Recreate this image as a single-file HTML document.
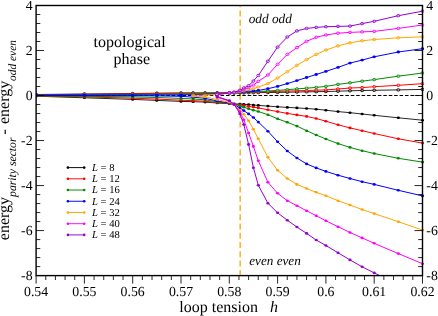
<!DOCTYPE html>
<html><head><meta charset="utf-8"><title>plot</title>
<style>html,body{margin:0;padding:0;background:#fff;}svg{display:block;}text{font-family:"Liberation Serif",serif;fill:#000;text-rendering:geometricPrecision;}</style>
</head><body>
<svg width="438" height="316" viewBox="0 0 438 316">
<rect x="0" y="0" width="438" height="316" fill="#ffffff"/>
<filter id="nf" x="0" y="0" width="438" height="316" filterUnits="userSpaceOnUse"><feOffset dx="0" dy="0"/></filter>
<g filter="url(#nf)">
<defs><clipPath id="c"><rect x="36.10" y="5.50" width="387.90" height="270.10"/></clipPath></defs>
<line x1="240.15" y1="5.50" x2="240.15" y2="275.60" stroke="#ffa500" stroke-width="1.3" stroke-dasharray="5.9 3.36" stroke-dashoffset="4.16"/>
<line x1="36.10" y1="95.48" x2="422.50" y2="95.48" stroke="#000" stroke-width="1.05" stroke-dasharray="3.55 1.875"/>
<g clip-path="url(#c)" fill="none" stroke-width="0.82" stroke-linejoin="round">
<polyline points="36.1,94.5 84.4,94.0 132.7,93.5 156.8,93.2 181.0,93.0 193.1,92.9 205.1,92.9 217.2,92.8 229.3,92.8 234.1,92.8 239.9,92.8 243.8,92.8 248.6,92.7 253.4,92.7 258.3,92.6 267.9,92.5 277.6,92.4 287.3,92.2 296.9,92.0 306.6,91.8 316.2,91.7 325.9,91.5 338.0,91.2 350.0,90.8 362.1,90.5 374.2,90.3 398.3,89.9 422.5,89.4" stroke="#000000" stroke-width="0.85"/>
<ellipse cx="36.1" cy="94.5" rx="1.6" ry="1.2" fill="#fff" fill-opacity="0.35" stroke="#000000" stroke-width="0.9"/>
<ellipse cx="84.4" cy="94.0" rx="1.6" ry="1.2" fill="#fff" fill-opacity="0.35" stroke="#000000" stroke-width="0.9"/>
<ellipse cx="132.7" cy="93.5" rx="1.6" ry="1.2" fill="#fff" fill-opacity="0.35" stroke="#000000" stroke-width="0.9"/>
<ellipse cx="156.8" cy="93.2" rx="1.6" ry="1.2" fill="#fff" fill-opacity="0.35" stroke="#000000" stroke-width="0.9"/>
<ellipse cx="181.0" cy="93.0" rx="1.6" ry="1.2" fill="#fff" fill-opacity="0.35" stroke="#000000" stroke-width="0.9"/>
<ellipse cx="193.1" cy="92.9" rx="1.6" ry="1.2" fill="#fff" fill-opacity="0.35" stroke="#000000" stroke-width="0.9"/>
<ellipse cx="205.1" cy="92.9" rx="1.6" ry="1.2" fill="#fff" fill-opacity="0.35" stroke="#000000" stroke-width="0.9"/>
<ellipse cx="217.2" cy="92.8" rx="1.6" ry="1.2" fill="#fff" fill-opacity="0.35" stroke="#000000" stroke-width="0.9"/>
<ellipse cx="229.3" cy="92.8" rx="1.6" ry="1.2" fill="#fff" fill-opacity="0.35" stroke="#000000" stroke-width="0.9"/>
<ellipse cx="234.1" cy="92.8" rx="1.6" ry="1.2" fill="#fff" fill-opacity="0.35" stroke="#000000" stroke-width="0.9"/>
<ellipse cx="239.9" cy="92.8" rx="1.6" ry="1.2" fill="#fff" fill-opacity="0.35" stroke="#000000" stroke-width="0.9"/>
<ellipse cx="243.8" cy="92.8" rx="1.6" ry="1.2" fill="#fff" fill-opacity="0.35" stroke="#000000" stroke-width="0.9"/>
<ellipse cx="248.6" cy="92.7" rx="1.6" ry="1.2" fill="#fff" fill-opacity="0.35" stroke="#000000" stroke-width="0.9"/>
<ellipse cx="253.4" cy="92.7" rx="1.6" ry="1.2" fill="#fff" fill-opacity="0.35" stroke="#000000" stroke-width="0.9"/>
<ellipse cx="258.3" cy="92.6" rx="1.6" ry="1.2" fill="#fff" fill-opacity="0.35" stroke="#000000" stroke-width="0.9"/>
<ellipse cx="267.9" cy="92.5" rx="1.6" ry="1.2" fill="#fff" fill-opacity="0.35" stroke="#000000" stroke-width="0.9"/>
<ellipse cx="277.6" cy="92.4" rx="1.6" ry="1.2" fill="#fff" fill-opacity="0.35" stroke="#000000" stroke-width="0.9"/>
<ellipse cx="287.3" cy="92.2" rx="1.6" ry="1.2" fill="#fff" fill-opacity="0.35" stroke="#000000" stroke-width="0.9"/>
<ellipse cx="296.9" cy="92.0" rx="1.6" ry="1.2" fill="#fff" fill-opacity="0.35" stroke="#000000" stroke-width="0.9"/>
<ellipse cx="306.6" cy="91.8" rx="1.6" ry="1.2" fill="#fff" fill-opacity="0.35" stroke="#000000" stroke-width="0.9"/>
<ellipse cx="316.2" cy="91.7" rx="1.6" ry="1.2" fill="#fff" fill-opacity="0.35" stroke="#000000" stroke-width="0.9"/>
<ellipse cx="325.9" cy="91.5" rx="1.6" ry="1.2" fill="#fff" fill-opacity="0.35" stroke="#000000" stroke-width="0.9"/>
<ellipse cx="338.0" cy="91.2" rx="1.6" ry="1.2" fill="#fff" fill-opacity="0.35" stroke="#000000" stroke-width="0.9"/>
<ellipse cx="350.0" cy="90.8" rx="1.6" ry="1.2" fill="#fff" fill-opacity="0.35" stroke="#000000" stroke-width="0.9"/>
<ellipse cx="362.1" cy="90.5" rx="1.6" ry="1.2" fill="#fff" fill-opacity="0.35" stroke="#000000" stroke-width="0.9"/>
<ellipse cx="374.2" cy="90.3" rx="1.6" ry="1.2" fill="#fff" fill-opacity="0.35" stroke="#000000" stroke-width="0.9"/>
<ellipse cx="398.3" cy="89.9" rx="1.6" ry="1.2" fill="#fff" fill-opacity="0.35" stroke="#000000" stroke-width="0.9"/>
<ellipse cx="422.5" cy="89.4" rx="1.6" ry="1.2" fill="#fff" fill-opacity="0.35" stroke="#000000" stroke-width="0.9"/>
<polyline points="36.1,96.2 84.4,97.8 132.7,99.4 156.8,100.4 181.0,101.4 193.1,101.7 205.1,102.1 217.2,103.0 229.3,103.7 234.1,103.9 239.9,104.1 243.8,104.3 248.6,104.6 253.4,105.0 258.3,105.4 267.9,106.1 277.6,106.8 287.3,107.4 296.9,107.9 306.6,108.5 316.2,109.2 325.9,110.2 338.0,111.6 350.0,112.7 362.1,114.0 374.2,115.3 398.3,117.8 422.5,120.2" stroke="#000000" stroke-width="0.85"/>
<ellipse cx="36.1" cy="96.2" rx="1.6" ry="1.3" fill="#000000" stroke="none"/>
<ellipse cx="84.4" cy="97.8" rx="1.6" ry="1.3" fill="#000000" stroke="none"/>
<ellipse cx="132.7" cy="99.4" rx="1.6" ry="1.3" fill="#000000" stroke="none"/>
<ellipse cx="156.8" cy="100.4" rx="1.6" ry="1.3" fill="#000000" stroke="none"/>
<ellipse cx="181.0" cy="101.4" rx="1.6" ry="1.3" fill="#000000" stroke="none"/>
<ellipse cx="193.1" cy="101.7" rx="1.6" ry="1.3" fill="#000000" stroke="none"/>
<ellipse cx="205.1" cy="102.1" rx="1.6" ry="1.3" fill="#000000" stroke="none"/>
<ellipse cx="217.2" cy="103.0" rx="1.6" ry="1.3" fill="#000000" stroke="none"/>
<ellipse cx="229.3" cy="103.7" rx="1.6" ry="1.3" fill="#000000" stroke="none"/>
<ellipse cx="234.1" cy="103.9" rx="1.6" ry="1.3" fill="#000000" stroke="none"/>
<ellipse cx="239.9" cy="104.1" rx="1.6" ry="1.3" fill="#000000" stroke="none"/>
<ellipse cx="243.8" cy="104.3" rx="1.6" ry="1.3" fill="#000000" stroke="none"/>
<ellipse cx="248.6" cy="104.6" rx="1.6" ry="1.3" fill="#000000" stroke="none"/>
<ellipse cx="253.4" cy="105.0" rx="1.6" ry="1.3" fill="#000000" stroke="none"/>
<ellipse cx="258.3" cy="105.4" rx="1.6" ry="1.3" fill="#000000" stroke="none"/>
<ellipse cx="267.9" cy="106.1" rx="1.6" ry="1.3" fill="#000000" stroke="none"/>
<ellipse cx="277.6" cy="106.8" rx="1.6" ry="1.3" fill="#000000" stroke="none"/>
<ellipse cx="287.3" cy="107.4" rx="1.6" ry="1.3" fill="#000000" stroke="none"/>
<ellipse cx="296.9" cy="107.9" rx="1.6" ry="1.3" fill="#000000" stroke="none"/>
<ellipse cx="306.6" cy="108.5" rx="1.6" ry="1.3" fill="#000000" stroke="none"/>
<ellipse cx="316.2" cy="109.2" rx="1.6" ry="1.3" fill="#000000" stroke="none"/>
<ellipse cx="325.9" cy="110.2" rx="1.6" ry="1.3" fill="#000000" stroke="none"/>
<ellipse cx="338.0" cy="111.6" rx="1.6" ry="1.3" fill="#000000" stroke="none"/>
<ellipse cx="350.0" cy="112.7" rx="1.6" ry="1.3" fill="#000000" stroke="none"/>
<ellipse cx="362.1" cy="114.0" rx="1.6" ry="1.3" fill="#000000" stroke="none"/>
<ellipse cx="374.2" cy="115.3" rx="1.6" ry="1.3" fill="#000000" stroke="none"/>
<ellipse cx="398.3" cy="117.8" rx="1.6" ry="1.3" fill="#000000" stroke="none"/>
<ellipse cx="422.5" cy="120.2" rx="1.6" ry="1.3" fill="#000000" stroke="none"/>
<polyline points="36.1,94.7 84.4,94.3 132.7,93.8 156.8,93.5 181.0,93.2 193.1,93.2 205.1,93.2 217.2,93.1 229.3,93.0 234.1,92.9 239.9,92.8 243.8,92.7 248.6,92.5 253.4,92.3 258.3,92.1 267.9,91.7 277.6,91.4 287.3,91.1 296.9,90.8 306.6,90.5 316.2,90.2 325.9,89.9 338.0,89.0 350.0,88.0 362.1,87.6 374.2,86.7 398.3,85.3 422.5,83.7" stroke="#ff0000" stroke-width="1.0"/>
<ellipse cx="36.1" cy="94.7" rx="1.6" ry="1.2" fill="#fff" fill-opacity="0.4" stroke="#ff0000" stroke-width="0.9"/>
<ellipse cx="84.4" cy="94.3" rx="1.6" ry="1.2" fill="#fff" fill-opacity="0.4" stroke="#ff0000" stroke-width="0.9"/>
<ellipse cx="132.7" cy="93.8" rx="1.6" ry="1.2" fill="#fff" fill-opacity="0.4" stroke="#ff0000" stroke-width="0.9"/>
<ellipse cx="156.8" cy="93.5" rx="1.6" ry="1.2" fill="#fff" fill-opacity="0.4" stroke="#ff0000" stroke-width="0.9"/>
<ellipse cx="181.0" cy="93.2" rx="1.6" ry="1.2" fill="#fff" fill-opacity="0.4" stroke="#ff0000" stroke-width="0.9"/>
<ellipse cx="193.1" cy="93.2" rx="1.6" ry="1.2" fill="#fff" fill-opacity="0.4" stroke="#ff0000" stroke-width="0.9"/>
<ellipse cx="205.1" cy="93.2" rx="1.6" ry="1.2" fill="#fff" fill-opacity="0.4" stroke="#ff0000" stroke-width="0.9"/>
<ellipse cx="217.2" cy="93.1" rx="1.6" ry="1.2" fill="#fff" fill-opacity="0.4" stroke="#ff0000" stroke-width="0.9"/>
<ellipse cx="229.3" cy="93.0" rx="1.6" ry="1.2" fill="#fff" fill-opacity="0.4" stroke="#ff0000" stroke-width="0.9"/>
<ellipse cx="234.1" cy="92.9" rx="1.6" ry="1.2" fill="#fff" fill-opacity="0.4" stroke="#ff0000" stroke-width="0.9"/>
<ellipse cx="239.9" cy="92.8" rx="1.6" ry="1.2" fill="#fff" fill-opacity="0.4" stroke="#ff0000" stroke-width="0.9"/>
<ellipse cx="243.8" cy="92.7" rx="1.6" ry="1.2" fill="#fff" fill-opacity="0.4" stroke="#ff0000" stroke-width="0.9"/>
<ellipse cx="248.6" cy="92.5" rx="1.6" ry="1.2" fill="#fff" fill-opacity="0.4" stroke="#ff0000" stroke-width="0.9"/>
<ellipse cx="253.4" cy="92.3" rx="1.6" ry="1.2" fill="#fff" fill-opacity="0.4" stroke="#ff0000" stroke-width="0.9"/>
<ellipse cx="258.3" cy="92.1" rx="1.6" ry="1.2" fill="#fff" fill-opacity="0.4" stroke="#ff0000" stroke-width="0.9"/>
<ellipse cx="267.9" cy="91.7" rx="1.6" ry="1.2" fill="#fff" fill-opacity="0.4" stroke="#ff0000" stroke-width="0.9"/>
<ellipse cx="277.6" cy="91.4" rx="1.6" ry="1.2" fill="#fff" fill-opacity="0.4" stroke="#ff0000" stroke-width="0.9"/>
<ellipse cx="287.3" cy="91.1" rx="1.6" ry="1.2" fill="#fff" fill-opacity="0.4" stroke="#ff0000" stroke-width="0.9"/>
<ellipse cx="296.9" cy="90.8" rx="1.6" ry="1.2" fill="#fff" fill-opacity="0.4" stroke="#ff0000" stroke-width="0.9"/>
<ellipse cx="306.6" cy="90.5" rx="1.6" ry="1.2" fill="#fff" fill-opacity="0.4" stroke="#ff0000" stroke-width="0.9"/>
<ellipse cx="316.2" cy="90.2" rx="1.6" ry="1.2" fill="#fff" fill-opacity="0.4" stroke="#ff0000" stroke-width="0.9"/>
<ellipse cx="325.9" cy="89.9" rx="1.6" ry="1.2" fill="#fff" fill-opacity="0.4" stroke="#ff0000" stroke-width="0.9"/>
<ellipse cx="338.0" cy="89.0" rx="1.6" ry="1.2" fill="#fff" fill-opacity="0.4" stroke="#ff0000" stroke-width="0.9"/>
<ellipse cx="350.0" cy="88.0" rx="1.6" ry="1.2" fill="#fff" fill-opacity="0.4" stroke="#ff0000" stroke-width="0.9"/>
<ellipse cx="362.1" cy="87.6" rx="1.6" ry="1.2" fill="#fff" fill-opacity="0.4" stroke="#ff0000" stroke-width="0.9"/>
<ellipse cx="374.2" cy="86.7" rx="1.6" ry="1.2" fill="#fff" fill-opacity="0.4" stroke="#ff0000" stroke-width="0.9"/>
<ellipse cx="398.3" cy="85.3" rx="1.6" ry="1.2" fill="#fff" fill-opacity="0.4" stroke="#ff0000" stroke-width="0.9"/>
<ellipse cx="422.5" cy="83.7" rx="1.6" ry="1.2" fill="#fff" fill-opacity="0.4" stroke="#ff0000" stroke-width="0.9"/>
<polyline points="36.1,96.1 84.4,96.9 132.7,98.2 156.8,99.1 181.0,100.2 193.1,100.7 205.1,101.2 217.2,102.6 229.3,103.6 234.1,104.1 239.9,104.7 243.8,105.6 248.6,106.4 253.4,107.1 258.3,107.9 267.9,109.8 277.6,111.6 287.3,113.4 296.9,114.9 306.6,116.4 316.2,118.5 325.9,121.2 338.0,124.8 350.0,127.9 362.1,130.7 374.2,133.5 398.3,138.8 422.5,143.1" stroke="#ff0000" stroke-width="1.0"/>
<ellipse cx="36.1" cy="96.1" rx="1.6" ry="1.3" fill="#ff0000" stroke="none"/>
<ellipse cx="84.4" cy="96.9" rx="1.6" ry="1.3" fill="#ff0000" stroke="none"/>
<ellipse cx="132.7" cy="98.2" rx="1.6" ry="1.3" fill="#ff0000" stroke="none"/>
<ellipse cx="156.8" cy="99.1" rx="1.6" ry="1.3" fill="#ff0000" stroke="none"/>
<ellipse cx="181.0" cy="100.2" rx="1.6" ry="1.3" fill="#ff0000" stroke="none"/>
<ellipse cx="193.1" cy="100.7" rx="1.6" ry="1.3" fill="#ff0000" stroke="none"/>
<ellipse cx="205.1" cy="101.2" rx="1.6" ry="1.3" fill="#ff0000" stroke="none"/>
<ellipse cx="217.2" cy="102.6" rx="1.6" ry="1.3" fill="#ff0000" stroke="none"/>
<ellipse cx="229.3" cy="103.6" rx="1.6" ry="1.3" fill="#ff0000" stroke="none"/>
<ellipse cx="234.1" cy="104.1" rx="1.6" ry="1.3" fill="#ff0000" stroke="none"/>
<ellipse cx="239.9" cy="104.7" rx="1.6" ry="1.3" fill="#ff0000" stroke="none"/>
<ellipse cx="243.8" cy="105.6" rx="1.6" ry="1.3" fill="#ff0000" stroke="none"/>
<ellipse cx="248.6" cy="106.4" rx="1.6" ry="1.3" fill="#ff0000" stroke="none"/>
<ellipse cx="253.4" cy="107.1" rx="1.6" ry="1.3" fill="#ff0000" stroke="none"/>
<ellipse cx="258.3" cy="107.9" rx="1.6" ry="1.3" fill="#ff0000" stroke="none"/>
<ellipse cx="267.9" cy="109.8" rx="1.6" ry="1.3" fill="#ff0000" stroke="none"/>
<ellipse cx="277.6" cy="111.6" rx="1.6" ry="1.3" fill="#ff0000" stroke="none"/>
<ellipse cx="287.3" cy="113.4" rx="1.6" ry="1.3" fill="#ff0000" stroke="none"/>
<ellipse cx="296.9" cy="114.9" rx="1.6" ry="1.3" fill="#ff0000" stroke="none"/>
<ellipse cx="306.6" cy="116.4" rx="1.6" ry="1.3" fill="#ff0000" stroke="none"/>
<ellipse cx="316.2" cy="118.5" rx="1.6" ry="1.3" fill="#ff0000" stroke="none"/>
<ellipse cx="325.9" cy="121.2" rx="1.6" ry="1.3" fill="#ff0000" stroke="none"/>
<ellipse cx="338.0" cy="124.8" rx="1.6" ry="1.3" fill="#ff0000" stroke="none"/>
<ellipse cx="350.0" cy="127.9" rx="1.6" ry="1.3" fill="#ff0000" stroke="none"/>
<ellipse cx="362.1" cy="130.7" rx="1.6" ry="1.3" fill="#ff0000" stroke="none"/>
<ellipse cx="374.2" cy="133.5" rx="1.6" ry="1.3" fill="#ff0000" stroke="none"/>
<ellipse cx="398.3" cy="138.8" rx="1.6" ry="1.3" fill="#ff0000" stroke="none"/>
<ellipse cx="422.5" cy="143.1" rx="1.6" ry="1.3" fill="#ff0000" stroke="none"/>
<polyline points="36.1,95.0 84.4,94.8 132.7,94.5 156.8,94.3 181.0,94.1 193.1,93.9 205.1,93.7 217.2,93.5 229.3,93.2 234.1,93.0 239.9,92.7 243.8,92.4 248.6,92.1 253.4,91.8 258.3,91.5 267.9,91.0 277.6,90.4 287.3,89.7 296.9,88.9 306.6,88.2 316.2,87.4 325.9,86.4 338.0,84.4 350.0,82.8 362.1,81.2 374.2,79.6 398.3,76.2 422.5,73.0" stroke="#008a00" stroke-width="1.0"/>
<ellipse cx="36.1" cy="95.0" rx="1.6" ry="1.2" fill="#fff" fill-opacity="0.4" stroke="#008a00" stroke-width="0.9"/>
<ellipse cx="84.4" cy="94.8" rx="1.6" ry="1.2" fill="#fff" fill-opacity="0.4" stroke="#008a00" stroke-width="0.9"/>
<ellipse cx="132.7" cy="94.5" rx="1.6" ry="1.2" fill="#fff" fill-opacity="0.4" stroke="#008a00" stroke-width="0.9"/>
<ellipse cx="156.8" cy="94.3" rx="1.6" ry="1.2" fill="#fff" fill-opacity="0.4" stroke="#008a00" stroke-width="0.9"/>
<ellipse cx="181.0" cy="94.1" rx="1.6" ry="1.2" fill="#fff" fill-opacity="0.4" stroke="#008a00" stroke-width="0.9"/>
<ellipse cx="193.1" cy="93.9" rx="1.6" ry="1.2" fill="#fff" fill-opacity="0.4" stroke="#008a00" stroke-width="0.9"/>
<ellipse cx="205.1" cy="93.7" rx="1.6" ry="1.2" fill="#fff" fill-opacity="0.4" stroke="#008a00" stroke-width="0.9"/>
<ellipse cx="217.2" cy="93.5" rx="1.6" ry="1.2" fill="#fff" fill-opacity="0.4" stroke="#008a00" stroke-width="0.9"/>
<ellipse cx="229.3" cy="93.2" rx="1.6" ry="1.2" fill="#fff" fill-opacity="0.4" stroke="#008a00" stroke-width="0.9"/>
<ellipse cx="234.1" cy="93.0" rx="1.6" ry="1.2" fill="#fff" fill-opacity="0.4" stroke="#008a00" stroke-width="0.9"/>
<ellipse cx="239.9" cy="92.7" rx="1.6" ry="1.2" fill="#fff" fill-opacity="0.4" stroke="#008a00" stroke-width="0.9"/>
<ellipse cx="243.8" cy="92.4" rx="1.6" ry="1.2" fill="#fff" fill-opacity="0.4" stroke="#008a00" stroke-width="0.9"/>
<ellipse cx="248.6" cy="92.1" rx="1.6" ry="1.2" fill="#fff" fill-opacity="0.4" stroke="#008a00" stroke-width="0.9"/>
<ellipse cx="253.4" cy="91.8" rx="1.6" ry="1.2" fill="#fff" fill-opacity="0.4" stroke="#008a00" stroke-width="0.9"/>
<ellipse cx="258.3" cy="91.5" rx="1.6" ry="1.2" fill="#fff" fill-opacity="0.4" stroke="#008a00" stroke-width="0.9"/>
<ellipse cx="267.9" cy="91.0" rx="1.6" ry="1.2" fill="#fff" fill-opacity="0.4" stroke="#008a00" stroke-width="0.9"/>
<ellipse cx="277.6" cy="90.4" rx="1.6" ry="1.2" fill="#fff" fill-opacity="0.4" stroke="#008a00" stroke-width="0.9"/>
<ellipse cx="287.3" cy="89.7" rx="1.6" ry="1.2" fill="#fff" fill-opacity="0.4" stroke="#008a00" stroke-width="0.9"/>
<ellipse cx="296.9" cy="88.9" rx="1.6" ry="1.2" fill="#fff" fill-opacity="0.4" stroke="#008a00" stroke-width="0.9"/>
<ellipse cx="306.6" cy="88.2" rx="1.6" ry="1.2" fill="#fff" fill-opacity="0.4" stroke="#008a00" stroke-width="0.9"/>
<ellipse cx="316.2" cy="87.4" rx="1.6" ry="1.2" fill="#fff" fill-opacity="0.4" stroke="#008a00" stroke-width="0.9"/>
<ellipse cx="325.9" cy="86.4" rx="1.6" ry="1.2" fill="#fff" fill-opacity="0.4" stroke="#008a00" stroke-width="0.9"/>
<ellipse cx="338.0" cy="84.4" rx="1.6" ry="1.2" fill="#fff" fill-opacity="0.4" stroke="#008a00" stroke-width="0.9"/>
<ellipse cx="350.0" cy="82.8" rx="1.6" ry="1.2" fill="#fff" fill-opacity="0.4" stroke="#008a00" stroke-width="0.9"/>
<ellipse cx="362.1" cy="81.2" rx="1.6" ry="1.2" fill="#fff" fill-opacity="0.4" stroke="#008a00" stroke-width="0.9"/>
<ellipse cx="374.2" cy="79.6" rx="1.6" ry="1.2" fill="#fff" fill-opacity="0.4" stroke="#008a00" stroke-width="0.9"/>
<ellipse cx="398.3" cy="76.2" rx="1.6" ry="1.2" fill="#fff" fill-opacity="0.4" stroke="#008a00" stroke-width="0.9"/>
<ellipse cx="422.5" cy="73.0" rx="1.6" ry="1.2" fill="#fff" fill-opacity="0.4" stroke="#008a00" stroke-width="0.9"/>
<polyline points="36.1,95.9 84.4,96.3 132.7,96.9 156.8,97.5 181.0,98.4 193.1,99.0 205.1,99.8 217.2,101.9 229.3,103.3 234.1,104.2 239.9,105.8 243.8,107.2 248.6,108.8 253.4,110.2 258.3,111.5 267.9,114.7 277.6,118.8 287.3,122.3 296.9,126.1 306.6,130.7 316.2,135.0 325.9,139.0 338.0,143.6 350.0,147.4 362.1,150.7 374.2,153.5 398.3,158.3 422.5,162.1" stroke="#008a00" stroke-width="1.0"/>
<ellipse cx="36.1" cy="95.9" rx="1.6" ry="1.3" fill="#008a00" stroke="none"/>
<ellipse cx="84.4" cy="96.3" rx="1.6" ry="1.3" fill="#008a00" stroke="none"/>
<ellipse cx="132.7" cy="96.9" rx="1.6" ry="1.3" fill="#008a00" stroke="none"/>
<ellipse cx="156.8" cy="97.5" rx="1.6" ry="1.3" fill="#008a00" stroke="none"/>
<ellipse cx="181.0" cy="98.4" rx="1.6" ry="1.3" fill="#008a00" stroke="none"/>
<ellipse cx="193.1" cy="99.0" rx="1.6" ry="1.3" fill="#008a00" stroke="none"/>
<ellipse cx="205.1" cy="99.8" rx="1.6" ry="1.3" fill="#008a00" stroke="none"/>
<ellipse cx="217.2" cy="101.9" rx="1.6" ry="1.3" fill="#008a00" stroke="none"/>
<ellipse cx="229.3" cy="103.3" rx="1.6" ry="1.3" fill="#008a00" stroke="none"/>
<ellipse cx="234.1" cy="104.2" rx="1.6" ry="1.3" fill="#008a00" stroke="none"/>
<ellipse cx="239.9" cy="105.8" rx="1.6" ry="1.3" fill="#008a00" stroke="none"/>
<ellipse cx="243.8" cy="107.2" rx="1.6" ry="1.3" fill="#008a00" stroke="none"/>
<ellipse cx="248.6" cy="108.8" rx="1.6" ry="1.3" fill="#008a00" stroke="none"/>
<ellipse cx="253.4" cy="110.2" rx="1.6" ry="1.3" fill="#008a00" stroke="none"/>
<ellipse cx="258.3" cy="111.5" rx="1.6" ry="1.3" fill="#008a00" stroke="none"/>
<ellipse cx="267.9" cy="114.7" rx="1.6" ry="1.3" fill="#008a00" stroke="none"/>
<ellipse cx="277.6" cy="118.8" rx="1.6" ry="1.3" fill="#008a00" stroke="none"/>
<ellipse cx="287.3" cy="122.3" rx="1.6" ry="1.3" fill="#008a00" stroke="none"/>
<ellipse cx="296.9" cy="126.1" rx="1.6" ry="1.3" fill="#008a00" stroke="none"/>
<ellipse cx="306.6" cy="130.7" rx="1.6" ry="1.3" fill="#008a00" stroke="none"/>
<ellipse cx="316.2" cy="135.0" rx="1.6" ry="1.3" fill="#008a00" stroke="none"/>
<ellipse cx="325.9" cy="139.0" rx="1.6" ry="1.3" fill="#008a00" stroke="none"/>
<ellipse cx="338.0" cy="143.6" rx="1.6" ry="1.3" fill="#008a00" stroke="none"/>
<ellipse cx="350.0" cy="147.4" rx="1.6" ry="1.3" fill="#008a00" stroke="none"/>
<ellipse cx="362.1" cy="150.7" rx="1.6" ry="1.3" fill="#008a00" stroke="none"/>
<ellipse cx="374.2" cy="153.5" rx="1.6" ry="1.3" fill="#008a00" stroke="none"/>
<ellipse cx="398.3" cy="158.3" rx="1.6" ry="1.3" fill="#008a00" stroke="none"/>
<ellipse cx="422.5" cy="162.1" rx="1.6" ry="1.3" fill="#008a00" stroke="none"/>
<polyline points="36.1,95.2 84.4,95.1 132.7,95.1 156.8,95.0 181.0,94.9 193.1,94.6 205.1,94.4 217.2,93.9 229.3,93.2 234.1,92.9 239.9,92.4 243.8,92.0 248.6,91.5 253.4,91.0 258.3,90.4 267.9,88.7 277.6,86.4 287.3,83.6 296.9,80.6 306.6,77.5 316.2,74.5 325.9,71.4 338.0,67.4 350.0,63.1 362.1,60.1 374.2,56.8 398.3,52.0 422.5,48.7" stroke="#0000ff" stroke-width="1.0"/>
<ellipse cx="36.1" cy="95.2" rx="1.75" ry="1.4" fill="#0000ff" stroke="none"/>
<ellipse cx="84.4" cy="95.1" rx="1.75" ry="1.4" fill="#0000ff" stroke="none"/>
<ellipse cx="132.7" cy="95.1" rx="1.75" ry="1.4" fill="#0000ff" stroke="none"/>
<ellipse cx="156.8" cy="95.0" rx="1.75" ry="1.4" fill="#0000ff" stroke="none"/>
<ellipse cx="181.0" cy="94.9" rx="1.75" ry="1.4" fill="#0000ff" stroke="none"/>
<ellipse cx="193.1" cy="94.6" rx="1.75" ry="1.4" fill="#0000ff" stroke="none"/>
<ellipse cx="205.1" cy="94.4" rx="1.75" ry="1.4" fill="#0000ff" stroke="none"/>
<ellipse cx="217.2" cy="93.9" rx="1.75" ry="1.4" fill="#0000ff" stroke="none"/>
<ellipse cx="229.3" cy="93.2" rx="1.75" ry="1.4" fill="#0000ff" stroke="none"/>
<ellipse cx="234.1" cy="92.9" rx="1.75" ry="1.4" fill="#0000ff" stroke="none"/>
<ellipse cx="239.9" cy="92.4" rx="1.75" ry="1.4" fill="#0000ff" stroke="none"/>
<ellipse cx="243.8" cy="92.0" rx="1.75" ry="1.4" fill="#0000ff" stroke="none"/>
<ellipse cx="248.6" cy="91.5" rx="1.75" ry="1.4" fill="#0000ff" stroke="none"/>
<ellipse cx="253.4" cy="91.0" rx="1.75" ry="1.4" fill="#0000ff" stroke="none"/>
<ellipse cx="258.3" cy="90.4" rx="1.75" ry="1.4" fill="#0000ff" stroke="none"/>
<ellipse cx="267.9" cy="88.7" rx="1.75" ry="1.4" fill="#0000ff" stroke="none"/>
<ellipse cx="277.6" cy="86.4" rx="1.75" ry="1.4" fill="#0000ff" stroke="none"/>
<ellipse cx="287.3" cy="83.6" rx="1.75" ry="1.4" fill="#0000ff" stroke="none"/>
<ellipse cx="296.9" cy="80.6" rx="1.75" ry="1.4" fill="#0000ff" stroke="none"/>
<ellipse cx="306.6" cy="77.5" rx="1.75" ry="1.4" fill="#0000ff" stroke="none"/>
<ellipse cx="316.2" cy="74.5" rx="1.75" ry="1.4" fill="#0000ff" stroke="none"/>
<ellipse cx="325.9" cy="71.4" rx="1.75" ry="1.4" fill="#0000ff" stroke="none"/>
<ellipse cx="338.0" cy="67.4" rx="1.75" ry="1.4" fill="#0000ff" stroke="none"/>
<ellipse cx="350.0" cy="63.1" rx="1.75" ry="1.4" fill="#0000ff" stroke="none"/>
<ellipse cx="362.1" cy="60.1" rx="1.75" ry="1.4" fill="#0000ff" stroke="none"/>
<ellipse cx="374.2" cy="56.8" rx="1.75" ry="1.4" fill="#0000ff" stroke="none"/>
<ellipse cx="398.3" cy="52.0" rx="1.75" ry="1.4" fill="#0000ff" stroke="none"/>
<ellipse cx="422.5" cy="48.7" rx="1.75" ry="1.4" fill="#0000ff" stroke="none"/>
<polyline points="36.1,95.5 84.4,95.6 132.7,95.7 156.8,95.9 181.0,96.3 193.1,97.2 205.1,98.3 217.2,101.0 229.3,103.0 234.1,104.4 239.9,108.0 243.8,110.6 248.6,113.9 253.4,117.5 258.3,122.1 267.9,131.2 277.6,141.8 287.3,151.0 296.9,158.0 306.6,163.9 316.2,167.9 325.9,171.4 338.0,175.2 350.0,178.5 362.1,181.7 374.2,184.4 398.3,190.3 422.5,195.9" stroke="#0000ff" stroke-width="1.0"/>
<ellipse cx="36.1" cy="95.5" rx="1.6" ry="1.3" fill="#0000ff" stroke="none"/>
<ellipse cx="84.4" cy="95.6" rx="1.6" ry="1.3" fill="#0000ff" stroke="none"/>
<ellipse cx="132.7" cy="95.7" rx="1.6" ry="1.3" fill="#0000ff" stroke="none"/>
<ellipse cx="156.8" cy="95.9" rx="1.6" ry="1.3" fill="#0000ff" stroke="none"/>
<ellipse cx="181.0" cy="96.3" rx="1.6" ry="1.3" fill="#0000ff" stroke="none"/>
<ellipse cx="193.1" cy="97.2" rx="1.6" ry="1.3" fill="#0000ff" stroke="none"/>
<ellipse cx="205.1" cy="98.3" rx="1.6" ry="1.3" fill="#0000ff" stroke="none"/>
<ellipse cx="217.2" cy="101.0" rx="1.6" ry="1.3" fill="#0000ff" stroke="none"/>
<ellipse cx="229.3" cy="103.0" rx="1.6" ry="1.3" fill="#0000ff" stroke="none"/>
<ellipse cx="234.1" cy="104.4" rx="1.6" ry="1.3" fill="#0000ff" stroke="none"/>
<ellipse cx="239.9" cy="108.0" rx="1.6" ry="1.3" fill="#0000ff" stroke="none"/>
<ellipse cx="243.8" cy="110.6" rx="1.6" ry="1.3" fill="#0000ff" stroke="none"/>
<ellipse cx="248.6" cy="113.9" rx="1.6" ry="1.3" fill="#0000ff" stroke="none"/>
<ellipse cx="253.4" cy="117.5" rx="1.6" ry="1.3" fill="#0000ff" stroke="none"/>
<ellipse cx="258.3" cy="122.1" rx="1.6" ry="1.3" fill="#0000ff" stroke="none"/>
<ellipse cx="267.9" cy="131.2" rx="1.6" ry="1.3" fill="#0000ff" stroke="none"/>
<ellipse cx="277.6" cy="141.8" rx="1.6" ry="1.3" fill="#0000ff" stroke="none"/>
<ellipse cx="287.3" cy="151.0" rx="1.6" ry="1.3" fill="#0000ff" stroke="none"/>
<ellipse cx="296.9" cy="158.0" rx="1.6" ry="1.3" fill="#0000ff" stroke="none"/>
<ellipse cx="306.6" cy="163.9" rx="1.6" ry="1.3" fill="#0000ff" stroke="none"/>
<ellipse cx="316.2" cy="167.9" rx="1.6" ry="1.3" fill="#0000ff" stroke="none"/>
<ellipse cx="325.9" cy="171.4" rx="1.6" ry="1.3" fill="#0000ff" stroke="none"/>
<ellipse cx="338.0" cy="175.2" rx="1.6" ry="1.3" fill="#0000ff" stroke="none"/>
<ellipse cx="350.0" cy="178.5" rx="1.6" ry="1.3" fill="#0000ff" stroke="none"/>
<ellipse cx="362.1" cy="181.7" rx="1.6" ry="1.3" fill="#0000ff" stroke="none"/>
<ellipse cx="374.2" cy="184.4" rx="1.6" ry="1.3" fill="#0000ff" stroke="none"/>
<ellipse cx="398.3" cy="190.3" rx="1.6" ry="1.3" fill="#0000ff" stroke="none"/>
<ellipse cx="422.5" cy="195.9" rx="1.6" ry="1.3" fill="#0000ff" stroke="none"/>
<polyline points="193.1,95.3 205.1,95.2 217.2,94.4 229.3,93.2 234.1,92.6 239.9,91.7 243.8,90.9 248.6,89.9 253.4,88.7 258.3,87.1 267.9,83.6 277.6,78.0 287.3,71.7 296.9,65.3 306.6,59.5 316.2,54.4 325.9,50.0 338.0,45.9 350.0,42.8 362.1,40.8 374.2,39.5 398.3,37.8 422.5,36.8" stroke="#ffa500" stroke-width="1.0"/>
<ellipse cx="193.1" cy="95.3" rx="1.6" ry="1.2" fill="#fff" fill-opacity="0.15" stroke="#ffa500" stroke-width="0.9"/>
<ellipse cx="205.1" cy="95.2" rx="1.6" ry="1.2" fill="#fff" fill-opacity="0.15" stroke="#ffa500" stroke-width="0.9"/>
<ellipse cx="217.2" cy="94.4" rx="1.6" ry="1.2" fill="#fff" fill-opacity="0.15" stroke="#ffa500" stroke-width="0.9"/>
<ellipse cx="229.3" cy="93.2" rx="1.6" ry="1.2" fill="#fff" fill-opacity="0.15" stroke="#ffa500" stroke-width="0.9"/>
<ellipse cx="234.1" cy="92.6" rx="1.6" ry="1.2" fill="#fff" fill-opacity="0.15" stroke="#ffa500" stroke-width="0.9"/>
<ellipse cx="239.9" cy="91.7" rx="1.6" ry="1.2" fill="#fff" fill-opacity="0.15" stroke="#ffa500" stroke-width="0.9"/>
<ellipse cx="243.8" cy="90.9" rx="1.6" ry="1.2" fill="#fff" fill-opacity="0.15" stroke="#ffa500" stroke-width="0.9"/>
<ellipse cx="248.6" cy="89.9" rx="1.6" ry="1.2" fill="#fff" fill-opacity="0.15" stroke="#ffa500" stroke-width="0.9"/>
<ellipse cx="253.4" cy="88.7" rx="1.6" ry="1.2" fill="#fff" fill-opacity="0.15" stroke="#ffa500" stroke-width="0.9"/>
<ellipse cx="258.3" cy="87.1" rx="1.6" ry="1.2" fill="#fff" fill-opacity="0.15" stroke="#ffa500" stroke-width="0.9"/>
<ellipse cx="267.9" cy="83.6" rx="1.6" ry="1.2" fill="#fff" fill-opacity="0.15" stroke="#ffa500" stroke-width="0.9"/>
<ellipse cx="277.6" cy="78.0" rx="1.6" ry="1.2" fill="#fff" fill-opacity="0.15" stroke="#ffa500" stroke-width="0.9"/>
<ellipse cx="287.3" cy="71.7" rx="1.6" ry="1.2" fill="#fff" fill-opacity="0.15" stroke="#ffa500" stroke-width="0.9"/>
<ellipse cx="296.9" cy="65.3" rx="1.6" ry="1.2" fill="#fff" fill-opacity="0.15" stroke="#ffa500" stroke-width="0.9"/>
<ellipse cx="306.6" cy="59.5" rx="1.6" ry="1.2" fill="#fff" fill-opacity="0.15" stroke="#ffa500" stroke-width="0.9"/>
<ellipse cx="316.2" cy="54.4" rx="1.6" ry="1.2" fill="#fff" fill-opacity="0.15" stroke="#ffa500" stroke-width="0.9"/>
<ellipse cx="325.9" cy="50.0" rx="1.6" ry="1.2" fill="#fff" fill-opacity="0.15" stroke="#ffa500" stroke-width="0.9"/>
<ellipse cx="338.0" cy="45.9" rx="1.6" ry="1.2" fill="#fff" fill-opacity="0.15" stroke="#ffa500" stroke-width="0.9"/>
<ellipse cx="350.0" cy="42.8" rx="1.6" ry="1.2" fill="#fff" fill-opacity="0.15" stroke="#ffa500" stroke-width="0.9"/>
<ellipse cx="362.1" cy="40.8" rx="1.6" ry="1.2" fill="#fff" fill-opacity="0.15" stroke="#ffa500" stroke-width="0.9"/>
<ellipse cx="374.2" cy="39.5" rx="1.6" ry="1.2" fill="#fff" fill-opacity="0.15" stroke="#ffa500" stroke-width="0.9"/>
<ellipse cx="398.3" cy="37.8" rx="1.6" ry="1.2" fill="#fff" fill-opacity="0.15" stroke="#ffa500" stroke-width="0.9"/>
<ellipse cx="422.5" cy="36.8" rx="1.6" ry="1.2" fill="#fff" fill-opacity="0.15" stroke="#ffa500" stroke-width="0.9"/>
<polyline points="193.1,96.3 205.1,96.8 217.2,99.6 229.3,102.2 234.1,104.3 239.9,110.0 243.8,114.2 248.6,120.8 253.4,129.2 258.3,138.8 267.9,157.3 277.6,170.3 287.3,178.5 296.9,184.4 306.6,188.5 316.2,192.3 325.9,195.7 338.0,200.7 350.0,205.0 362.1,209.5 374.2,213.6 398.3,221.7 422.5,230.1" stroke="#ffa500" stroke-width="1.0"/>
<ellipse cx="193.1" cy="96.3" rx="1.6" ry="1.3" fill="#ffa500" stroke="none"/>
<ellipse cx="205.1" cy="96.8" rx="1.6" ry="1.3" fill="#ffa500" stroke="none"/>
<ellipse cx="217.2" cy="99.6" rx="1.6" ry="1.3" fill="#ffa500" stroke="none"/>
<ellipse cx="229.3" cy="102.2" rx="1.6" ry="1.3" fill="#ffa500" stroke="none"/>
<ellipse cx="234.1" cy="104.3" rx="1.6" ry="1.3" fill="#ffa500" stroke="none"/>
<ellipse cx="239.9" cy="110.0" rx="1.6" ry="1.3" fill="#ffa500" stroke="none"/>
<ellipse cx="243.8" cy="114.2" rx="1.6" ry="1.3" fill="#ffa500" stroke="none"/>
<ellipse cx="248.6" cy="120.8" rx="1.6" ry="1.3" fill="#ffa500" stroke="none"/>
<ellipse cx="253.4" cy="129.2" rx="1.6" ry="1.3" fill="#ffa500" stroke="none"/>
<ellipse cx="258.3" cy="138.8" rx="1.6" ry="1.3" fill="#ffa500" stroke="none"/>
<ellipse cx="267.9" cy="157.3" rx="1.6" ry="1.3" fill="#ffa500" stroke="none"/>
<ellipse cx="277.6" cy="170.3" rx="1.6" ry="1.3" fill="#ffa500" stroke="none"/>
<ellipse cx="287.3" cy="178.5" rx="1.6" ry="1.3" fill="#ffa500" stroke="none"/>
<ellipse cx="296.9" cy="184.4" rx="1.6" ry="1.3" fill="#ffa500" stroke="none"/>
<ellipse cx="306.6" cy="188.5" rx="1.6" ry="1.3" fill="#ffa500" stroke="none"/>
<ellipse cx="316.2" cy="192.3" rx="1.6" ry="1.3" fill="#ffa500" stroke="none"/>
<ellipse cx="325.9" cy="195.7" rx="1.6" ry="1.3" fill="#ffa500" stroke="none"/>
<ellipse cx="338.0" cy="200.7" rx="1.6" ry="1.3" fill="#ffa500" stroke="none"/>
<ellipse cx="350.0" cy="205.0" rx="1.6" ry="1.3" fill="#ffa500" stroke="none"/>
<ellipse cx="362.1" cy="209.5" rx="1.6" ry="1.3" fill="#ffa500" stroke="none"/>
<ellipse cx="374.2" cy="213.6" rx="1.6" ry="1.3" fill="#ffa500" stroke="none"/>
<ellipse cx="398.3" cy="221.7" rx="1.6" ry="1.3" fill="#ffa500" stroke="none"/>
<ellipse cx="422.5" cy="230.1" rx="1.6" ry="1.3" fill="#ffa500" stroke="none"/>
<polyline points="217.2,94.5 229.3,93.0 234.1,92.3 239.9,90.9 243.8,89.6 248.6,87.5 253.4,85.1 258.3,81.3 267.9,75.0 277.6,64.3 287.3,54.4 296.9,47.6 306.6,41.3 316.2,37.3 325.9,35.0 338.0,33.2 350.0,32.4 362.1,31.9 374.2,31.4 398.3,28.4 422.5,25.0" stroke="#ff00ff" stroke-width="1.0"/>
<ellipse cx="217.2" cy="94.5" rx="1.6" ry="1.2" fill="#fff" fill-opacity="0.4" stroke="#ff00ff" stroke-width="0.9"/>
<ellipse cx="229.3" cy="93.0" rx="1.6" ry="1.2" fill="#fff" fill-opacity="0.4" stroke="#ff00ff" stroke-width="0.9"/>
<ellipse cx="234.1" cy="92.3" rx="1.6" ry="1.2" fill="#fff" fill-opacity="0.4" stroke="#ff00ff" stroke-width="0.9"/>
<ellipse cx="239.9" cy="90.9" rx="1.6" ry="1.2" fill="#fff" fill-opacity="0.4" stroke="#ff00ff" stroke-width="0.9"/>
<ellipse cx="243.8" cy="89.6" rx="1.6" ry="1.2" fill="#fff" fill-opacity="0.4" stroke="#ff00ff" stroke-width="0.9"/>
<ellipse cx="248.6" cy="87.5" rx="1.6" ry="1.2" fill="#fff" fill-opacity="0.4" stroke="#ff00ff" stroke-width="0.9"/>
<ellipse cx="253.4" cy="85.1" rx="1.6" ry="1.2" fill="#fff" fill-opacity="0.4" stroke="#ff00ff" stroke-width="0.9"/>
<ellipse cx="258.3" cy="81.3" rx="1.6" ry="1.2" fill="#fff" fill-opacity="0.4" stroke="#ff00ff" stroke-width="0.9"/>
<ellipse cx="267.9" cy="75.0" rx="1.6" ry="1.2" fill="#fff" fill-opacity="0.4" stroke="#ff00ff" stroke-width="0.9"/>
<ellipse cx="277.6" cy="64.3" rx="1.6" ry="1.2" fill="#fff" fill-opacity="0.4" stroke="#ff00ff" stroke-width="0.9"/>
<ellipse cx="287.3" cy="54.4" rx="1.6" ry="1.2" fill="#fff" fill-opacity="0.4" stroke="#ff00ff" stroke-width="0.9"/>
<ellipse cx="296.9" cy="47.6" rx="1.6" ry="1.2" fill="#fff" fill-opacity="0.4" stroke="#ff00ff" stroke-width="0.9"/>
<ellipse cx="306.6" cy="41.3" rx="1.6" ry="1.2" fill="#fff" fill-opacity="0.4" stroke="#ff00ff" stroke-width="0.9"/>
<ellipse cx="316.2" cy="37.3" rx="1.6" ry="1.2" fill="#fff" fill-opacity="0.4" stroke="#ff00ff" stroke-width="0.9"/>
<ellipse cx="325.9" cy="35.0" rx="1.6" ry="1.2" fill="#fff" fill-opacity="0.4" stroke="#ff00ff" stroke-width="0.9"/>
<ellipse cx="338.0" cy="33.2" rx="1.6" ry="1.2" fill="#fff" fill-opacity="0.4" stroke="#ff00ff" stroke-width="0.9"/>
<ellipse cx="350.0" cy="32.4" rx="1.6" ry="1.2" fill="#fff" fill-opacity="0.4" stroke="#ff00ff" stroke-width="0.9"/>
<ellipse cx="362.1" cy="31.9" rx="1.6" ry="1.2" fill="#fff" fill-opacity="0.4" stroke="#ff00ff" stroke-width="0.9"/>
<ellipse cx="374.2" cy="31.4" rx="1.6" ry="1.2" fill="#fff" fill-opacity="0.4" stroke="#ff00ff" stroke-width="0.9"/>
<ellipse cx="398.3" cy="28.4" rx="1.6" ry="1.2" fill="#fff" fill-opacity="0.4" stroke="#ff00ff" stroke-width="0.9"/>
<ellipse cx="422.5" cy="25.0" rx="1.6" ry="1.2" fill="#fff" fill-opacity="0.4" stroke="#ff00ff" stroke-width="0.9"/>
<polyline points="217.2,97.4 229.3,101.0 234.1,104.3 239.9,111.7 243.8,119.8 248.6,133.0 253.4,146.4 258.3,160.8 267.9,182.2 277.6,193.3 287.3,200.7 296.9,205.7 306.6,210.8 316.2,215.7 325.9,220.8 338.0,226.7 350.0,232.5 362.1,237.9 374.2,243.3 398.3,253.6 422.5,263.7" stroke="#ff00ff" stroke-width="1.0"/>
<ellipse cx="217.2" cy="97.4" rx="1.6" ry="1.3" fill="#ff00ff" stroke="none"/>
<ellipse cx="229.3" cy="101.0" rx="1.6" ry="1.3" fill="#ff00ff" stroke="none"/>
<ellipse cx="234.1" cy="104.3" rx="1.6" ry="1.3" fill="#ff00ff" stroke="none"/>
<ellipse cx="239.9" cy="111.7" rx="1.6" ry="1.3" fill="#ff00ff" stroke="none"/>
<ellipse cx="243.8" cy="119.8" rx="1.6" ry="1.3" fill="#ff00ff" stroke="none"/>
<ellipse cx="248.6" cy="133.0" rx="1.6" ry="1.3" fill="#ff00ff" stroke="none"/>
<ellipse cx="253.4" cy="146.4" rx="1.6" ry="1.3" fill="#ff00ff" stroke="none"/>
<ellipse cx="258.3" cy="160.8" rx="1.6" ry="1.3" fill="#ff00ff" stroke="none"/>
<ellipse cx="267.9" cy="182.2" rx="1.6" ry="1.3" fill="#ff00ff" stroke="none"/>
<ellipse cx="277.6" cy="193.3" rx="1.6" ry="1.3" fill="#ff00ff" stroke="none"/>
<ellipse cx="287.3" cy="200.7" rx="1.6" ry="1.3" fill="#ff00ff" stroke="none"/>
<ellipse cx="296.9" cy="205.7" rx="1.6" ry="1.3" fill="#ff00ff" stroke="none"/>
<ellipse cx="306.6" cy="210.8" rx="1.6" ry="1.3" fill="#ff00ff" stroke="none"/>
<ellipse cx="316.2" cy="215.7" rx="1.6" ry="1.3" fill="#ff00ff" stroke="none"/>
<ellipse cx="325.9" cy="220.8" rx="1.6" ry="1.3" fill="#ff00ff" stroke="none"/>
<ellipse cx="338.0" cy="226.7" rx="1.6" ry="1.3" fill="#ff00ff" stroke="none"/>
<ellipse cx="350.0" cy="232.5" rx="1.6" ry="1.3" fill="#ff00ff" stroke="none"/>
<ellipse cx="362.1" cy="237.9" rx="1.6" ry="1.3" fill="#ff00ff" stroke="none"/>
<ellipse cx="374.2" cy="243.3" rx="1.6" ry="1.3" fill="#ff00ff" stroke="none"/>
<ellipse cx="398.3" cy="253.6" rx="1.6" ry="1.3" fill="#ff00ff" stroke="none"/>
<ellipse cx="422.5" cy="263.7" rx="1.6" ry="1.3" fill="#ff00ff" stroke="none"/>
<polyline points="217.2,94.4 229.3,92.9 234.1,92.2 239.9,90.3 243.8,87.9 248.6,85.7 253.4,81.0 258.3,75.5 267.9,61.2 277.6,47.1 287.3,37.0 296.9,30.9 306.6,28.4 316.2,27.4 325.9,26.7 338.0,26.4 350.0,26.1 362.1,23.6 374.2,21.3 398.3,15.7 422.5,11.2" stroke="#9400d3" stroke-width="1.0"/>
<ellipse cx="217.2" cy="94.4" rx="1.6" ry="1.2" fill="#fff" fill-opacity="0.4" stroke="#9400d3" stroke-width="0.9"/>
<ellipse cx="229.3" cy="92.9" rx="1.6" ry="1.2" fill="#fff" fill-opacity="0.4" stroke="#9400d3" stroke-width="0.9"/>
<ellipse cx="234.1" cy="92.2" rx="1.6" ry="1.2" fill="#fff" fill-opacity="0.4" stroke="#9400d3" stroke-width="0.9"/>
<ellipse cx="239.9" cy="90.3" rx="1.6" ry="1.2" fill="#fff" fill-opacity="0.4" stroke="#9400d3" stroke-width="0.9"/>
<ellipse cx="243.8" cy="87.9" rx="1.6" ry="1.2" fill="#fff" fill-opacity="0.4" stroke="#9400d3" stroke-width="0.9"/>
<ellipse cx="248.6" cy="85.7" rx="1.6" ry="1.2" fill="#fff" fill-opacity="0.4" stroke="#9400d3" stroke-width="0.9"/>
<ellipse cx="253.4" cy="81.0" rx="1.6" ry="1.2" fill="#fff" fill-opacity="0.4" stroke="#9400d3" stroke-width="0.9"/>
<ellipse cx="258.3" cy="75.5" rx="1.6" ry="1.2" fill="#fff" fill-opacity="0.4" stroke="#9400d3" stroke-width="0.9"/>
<ellipse cx="267.9" cy="61.2" rx="1.6" ry="1.2" fill="#fff" fill-opacity="0.4" stroke="#9400d3" stroke-width="0.9"/>
<ellipse cx="277.6" cy="47.1" rx="1.6" ry="1.2" fill="#fff" fill-opacity="0.4" stroke="#9400d3" stroke-width="0.9"/>
<ellipse cx="287.3" cy="37.0" rx="1.6" ry="1.2" fill="#fff" fill-opacity="0.4" stroke="#9400d3" stroke-width="0.9"/>
<ellipse cx="296.9" cy="30.9" rx="1.6" ry="1.2" fill="#fff" fill-opacity="0.4" stroke="#9400d3" stroke-width="0.9"/>
<ellipse cx="306.6" cy="28.4" rx="1.6" ry="1.2" fill="#fff" fill-opacity="0.4" stroke="#9400d3" stroke-width="0.9"/>
<ellipse cx="316.2" cy="27.4" rx="1.6" ry="1.2" fill="#fff" fill-opacity="0.4" stroke="#9400d3" stroke-width="0.9"/>
<ellipse cx="325.9" cy="26.7" rx="1.6" ry="1.2" fill="#fff" fill-opacity="0.4" stroke="#9400d3" stroke-width="0.9"/>
<ellipse cx="338.0" cy="26.4" rx="1.6" ry="1.2" fill="#fff" fill-opacity="0.4" stroke="#9400d3" stroke-width="0.9"/>
<ellipse cx="350.0" cy="26.1" rx="1.6" ry="1.2" fill="#fff" fill-opacity="0.4" stroke="#9400d3" stroke-width="0.9"/>
<ellipse cx="362.1" cy="23.6" rx="1.6" ry="1.2" fill="#fff" fill-opacity="0.4" stroke="#9400d3" stroke-width="0.9"/>
<ellipse cx="374.2" cy="21.3" rx="1.6" ry="1.2" fill="#fff" fill-opacity="0.4" stroke="#9400d3" stroke-width="0.9"/>
<ellipse cx="398.3" cy="15.7" rx="1.6" ry="1.2" fill="#fff" fill-opacity="0.4" stroke="#9400d3" stroke-width="0.9"/>
<ellipse cx="422.5" cy="11.2" rx="1.6" ry="1.2" fill="#fff" fill-opacity="0.4" stroke="#9400d3" stroke-width="0.9"/>
<polyline points="217.2,96.6 229.3,100.6 234.1,104.3 239.9,113.8 243.8,124.6 248.6,144.4 253.4,167.7 258.3,185.2 267.9,203.2 277.6,212.8 287.3,220.2 296.9,227.0 306.6,233.4 316.2,240.0 325.9,245.5 338.0,252.8 350.0,259.9 362.1,266.8 374.2,272.9 398.3,284.5 422.5,296.0" stroke="#9400d3" stroke-width="1.0"/>
<ellipse cx="217.2" cy="96.6" rx="1.6" ry="1.3" fill="#9400d3" stroke="none"/>
<ellipse cx="229.3" cy="100.6" rx="1.6" ry="1.3" fill="#9400d3" stroke="none"/>
<ellipse cx="234.1" cy="104.3" rx="1.6" ry="1.3" fill="#9400d3" stroke="none"/>
<ellipse cx="239.9" cy="113.8" rx="1.6" ry="1.3" fill="#9400d3" stroke="none"/>
<ellipse cx="243.8" cy="124.6" rx="1.6" ry="1.3" fill="#9400d3" stroke="none"/>
<ellipse cx="248.6" cy="144.4" rx="1.6" ry="1.3" fill="#9400d3" stroke="none"/>
<ellipse cx="253.4" cy="167.7" rx="1.6" ry="1.3" fill="#9400d3" stroke="none"/>
<ellipse cx="258.3" cy="185.2" rx="1.6" ry="1.3" fill="#9400d3" stroke="none"/>
<ellipse cx="267.9" cy="203.2" rx="1.6" ry="1.3" fill="#9400d3" stroke="none"/>
<ellipse cx="277.6" cy="212.8" rx="1.6" ry="1.3" fill="#9400d3" stroke="none"/>
<ellipse cx="287.3" cy="220.2" rx="1.6" ry="1.3" fill="#9400d3" stroke="none"/>
<ellipse cx="296.9" cy="227.0" rx="1.6" ry="1.3" fill="#9400d3" stroke="none"/>
<ellipse cx="306.6" cy="233.4" rx="1.6" ry="1.3" fill="#9400d3" stroke="none"/>
<ellipse cx="316.2" cy="240.0" rx="1.6" ry="1.3" fill="#9400d3" stroke="none"/>
<ellipse cx="325.9" cy="245.5" rx="1.6" ry="1.3" fill="#9400d3" stroke="none"/>
<ellipse cx="338.0" cy="252.8" rx="1.6" ry="1.3" fill="#9400d3" stroke="none"/>
<ellipse cx="350.0" cy="259.9" rx="1.6" ry="1.3" fill="#9400d3" stroke="none"/>
<ellipse cx="362.1" cy="266.8" rx="1.6" ry="1.3" fill="#9400d3" stroke="none"/>
<ellipse cx="374.2" cy="272.9" rx="1.6" ry="1.3" fill="#9400d3" stroke="none"/>
<ellipse cx="398.3" cy="284.5" rx="1.6" ry="1.3" fill="#9400d3" stroke="none"/>
<ellipse cx="422.5" cy="296.0" rx="1.6" ry="1.3" fill="#9400d3" stroke="none"/>
</g>
<rect x="36.10" y="5.50" width="386.40" height="270.10" fill="none" stroke="#000" stroke-width="1.4"/>
<g stroke="#000" stroke-width="0.85">
<line x1="36.10" y1="5.50" x2="44.10" y2="5.50"/>
<line x1="422.50" y1="5.50" x2="414.50" y2="5.50"/>
<line x1="36.10" y1="14.50" x2="40.30" y2="14.50"/>
<line x1="422.50" y1="14.50" x2="418.20" y2="14.50"/>
<line x1="36.10" y1="23.51" x2="40.30" y2="23.51"/>
<line x1="422.50" y1="23.51" x2="418.20" y2="23.51"/>
<line x1="36.10" y1="32.51" x2="40.30" y2="32.51"/>
<line x1="422.50" y1="32.51" x2="418.20" y2="32.51"/>
<line x1="36.10" y1="41.51" x2="40.30" y2="41.51"/>
<line x1="422.50" y1="41.51" x2="418.20" y2="41.51"/>
<line x1="36.10" y1="50.52" x2="44.10" y2="50.52"/>
<line x1="422.50" y1="50.52" x2="414.50" y2="50.52"/>
<line x1="36.10" y1="59.52" x2="40.30" y2="59.52"/>
<line x1="422.50" y1="59.52" x2="418.20" y2="59.52"/>
<line x1="36.10" y1="68.52" x2="40.30" y2="68.52"/>
<line x1="422.50" y1="68.52" x2="418.20" y2="68.52"/>
<line x1="36.10" y1="77.53" x2="40.30" y2="77.53"/>
<line x1="422.50" y1="77.53" x2="418.20" y2="77.53"/>
<line x1="36.10" y1="86.53" x2="40.30" y2="86.53"/>
<line x1="422.50" y1="86.53" x2="418.20" y2="86.53"/>
<line x1="36.10" y1="95.53" x2="44.10" y2="95.53"/>
<line x1="422.50" y1="95.53" x2="414.50" y2="95.53"/>
<line x1="36.10" y1="104.54" x2="40.30" y2="104.54"/>
<line x1="422.50" y1="104.54" x2="418.20" y2="104.54"/>
<line x1="36.10" y1="113.54" x2="40.30" y2="113.54"/>
<line x1="422.50" y1="113.54" x2="418.20" y2="113.54"/>
<line x1="36.10" y1="122.54" x2="40.30" y2="122.54"/>
<line x1="422.50" y1="122.54" x2="418.20" y2="122.54"/>
<line x1="36.10" y1="131.55" x2="40.30" y2="131.55"/>
<line x1="422.50" y1="131.55" x2="418.20" y2="131.55"/>
<line x1="36.10" y1="140.55" x2="44.10" y2="140.55"/>
<line x1="422.50" y1="140.55" x2="414.50" y2="140.55"/>
<line x1="36.10" y1="149.55" x2="40.30" y2="149.55"/>
<line x1="422.50" y1="149.55" x2="418.20" y2="149.55"/>
<line x1="36.10" y1="158.56" x2="40.30" y2="158.56"/>
<line x1="422.50" y1="158.56" x2="418.20" y2="158.56"/>
<line x1="36.10" y1="167.56" x2="40.30" y2="167.56"/>
<line x1="422.50" y1="167.56" x2="418.20" y2="167.56"/>
<line x1="36.10" y1="176.56" x2="40.30" y2="176.56"/>
<line x1="422.50" y1="176.56" x2="418.20" y2="176.56"/>
<line x1="36.10" y1="185.57" x2="44.10" y2="185.57"/>
<line x1="422.50" y1="185.57" x2="414.50" y2="185.57"/>
<line x1="36.10" y1="194.57" x2="40.30" y2="194.57"/>
<line x1="422.50" y1="194.57" x2="418.20" y2="194.57"/>
<line x1="36.10" y1="203.57" x2="40.30" y2="203.57"/>
<line x1="422.50" y1="203.57" x2="418.20" y2="203.57"/>
<line x1="36.10" y1="212.58" x2="40.30" y2="212.58"/>
<line x1="422.50" y1="212.58" x2="418.20" y2="212.58"/>
<line x1="36.10" y1="221.58" x2="40.30" y2="221.58"/>
<line x1="422.50" y1="221.58" x2="418.20" y2="221.58"/>
<line x1="36.10" y1="230.58" x2="44.10" y2="230.58"/>
<line x1="422.50" y1="230.58" x2="414.50" y2="230.58"/>
<line x1="36.10" y1="239.59" x2="40.30" y2="239.59"/>
<line x1="422.50" y1="239.59" x2="418.20" y2="239.59"/>
<line x1="36.10" y1="248.59" x2="40.30" y2="248.59"/>
<line x1="422.50" y1="248.59" x2="418.20" y2="248.59"/>
<line x1="36.10" y1="257.59" x2="40.30" y2="257.59"/>
<line x1="422.50" y1="257.59" x2="418.20" y2="257.59"/>
<line x1="36.10" y1="266.60" x2="40.30" y2="266.60"/>
<line x1="422.50" y1="266.60" x2="418.20" y2="266.60"/>
<line x1="36.10" y1="275.60" x2="44.10" y2="275.60"/>
<line x1="422.50" y1="275.60" x2="414.50" y2="275.60"/>
<line x1="36.10" y1="275.60" x2="36.10" y2="283.60"/>
<line x1="45.76" y1="275.60" x2="45.76" y2="280.00"/>
<line x1="55.42" y1="275.60" x2="55.42" y2="280.00"/>
<line x1="65.08" y1="275.60" x2="65.08" y2="280.00"/>
<line x1="74.74" y1="275.60" x2="74.74" y2="280.00"/>
<line x1="84.40" y1="275.60" x2="84.40" y2="283.60"/>
<line x1="94.06" y1="275.60" x2="94.06" y2="280.00"/>
<line x1="103.72" y1="275.60" x2="103.72" y2="280.00"/>
<line x1="113.38" y1="275.60" x2="113.38" y2="280.00"/>
<line x1="123.04" y1="275.60" x2="123.04" y2="280.00"/>
<line x1="132.70" y1="275.60" x2="132.70" y2="283.60"/>
<line x1="142.36" y1="275.60" x2="142.36" y2="280.00"/>
<line x1="152.02" y1="275.60" x2="152.02" y2="280.00"/>
<line x1="161.68" y1="275.60" x2="161.68" y2="280.00"/>
<line x1="171.34" y1="275.60" x2="171.34" y2="280.00"/>
<line x1="181.00" y1="275.60" x2="181.00" y2="283.60"/>
<line x1="190.66" y1="275.60" x2="190.66" y2="280.00"/>
<line x1="200.32" y1="275.60" x2="200.32" y2="280.00"/>
<line x1="209.98" y1="275.60" x2="209.98" y2="280.00"/>
<line x1="219.64" y1="275.60" x2="219.64" y2="280.00"/>
<line x1="229.30" y1="275.60" x2="229.30" y2="283.60"/>
<line x1="238.96" y1="275.60" x2="238.96" y2="280.00"/>
<line x1="248.62" y1="275.60" x2="248.62" y2="280.00"/>
<line x1="258.28" y1="275.60" x2="258.28" y2="280.00"/>
<line x1="267.94" y1="275.60" x2="267.94" y2="280.00"/>
<line x1="277.60" y1="275.60" x2="277.60" y2="283.60"/>
<line x1="287.26" y1="275.60" x2="287.26" y2="280.00"/>
<line x1="296.92" y1="275.60" x2="296.92" y2="280.00"/>
<line x1="306.58" y1="275.60" x2="306.58" y2="280.00"/>
<line x1="316.24" y1="275.60" x2="316.24" y2="280.00"/>
<line x1="325.90" y1="275.60" x2="325.90" y2="283.60"/>
<line x1="335.56" y1="275.60" x2="335.56" y2="280.00"/>
<line x1="345.22" y1="275.60" x2="345.22" y2="280.00"/>
<line x1="354.88" y1="275.60" x2="354.88" y2="280.00"/>
<line x1="364.54" y1="275.60" x2="364.54" y2="280.00"/>
<line x1="374.20" y1="275.60" x2="374.20" y2="283.60"/>
<line x1="383.86" y1="275.60" x2="383.86" y2="280.00"/>
<line x1="393.52" y1="275.60" x2="393.52" y2="280.00"/>
<line x1="403.18" y1="275.60" x2="403.18" y2="280.00"/>
<line x1="412.84" y1="275.60" x2="412.84" y2="280.00"/>
<line x1="422.50" y1="275.60" x2="422.50" y2="283.60"/>
</g>
<g font-size="13.8px">
<text x="32.6" y="10.20" text-anchor="end">4</text>
<text x="426.3" y="10.20" text-anchor="start">4</text>
<text x="32.6" y="55.22" text-anchor="end">2</text>
<text x="426.3" y="55.22" text-anchor="start">2</text>
<text x="32.6" y="100.23" text-anchor="end">0</text>
<text x="426.3" y="100.23" text-anchor="start">0</text>
<text x="32.6" y="145.25" text-anchor="end">-2</text>
<text x="426.3" y="145.25" text-anchor="start">-2</text>
<text x="32.6" y="190.27" text-anchor="end">-4</text>
<text x="426.3" y="190.27" text-anchor="start">-4</text>
<text x="32.6" y="235.28" text-anchor="end">-6</text>
<text x="426.3" y="235.28" text-anchor="start">-6</text>
<text x="32.6" y="280.30" text-anchor="end">-8</text>
<text x="426.3" y="280.30" text-anchor="start">-8</text>
<text x="36.10" y="296.4" text-anchor="middle">0.54</text>
<text x="84.40" y="296.4" text-anchor="middle">0.55</text>
<text x="132.70" y="296.4" text-anchor="middle">0.56</text>
<text x="181.00" y="296.4" text-anchor="middle">0.57</text>
<text x="229.30" y="296.4" text-anchor="middle">0.58</text>
<text x="277.60" y="296.4" text-anchor="middle">0.59</text>
<text x="325.90" y="296.4" text-anchor="middle">0.6</text>
<text x="374.20" y="296.4" text-anchor="middle">0.61</text>
<text x="422.50" y="296.4" text-anchor="middle">0.62</text>
</g>
<text x="179.3" y="312" font-size="16px" xml:space="preserve">loop tension</text>
<text x="270" y="312" font-size="16px" font-style="italic">h</text>
<text transform="translate(9.40,240.20) rotate(-90)" font-size="16px" xml:space="preserve">energy</text>
<text transform="translate(15.60,196.90) rotate(-90)" font-size="11.7px" font-style="italic" xml:space="preserve">parity sector</text>
<text transform="translate(9.40,134.50) rotate(-90)" font-size="16px" xml:space="preserve">-</text>
<text transform="translate(9.40,124.00) rotate(-90)" font-size="16px" xml:space="preserve">energy</text>
<text transform="translate(15.60,80.90) rotate(-90)" font-size="11.4px" font-style="italic" xml:space="preserve">odd even</text>
<text x="93.6" y="47.1" font-size="16px">topological</text>
<text x="113.6" y="64" font-size="16px">phase</text>
<text x="248.7" y="22.8" font-size="13.3px" font-style="italic">odd odd</text>
<text x="249.2" y="264.7" font-size="13.2px" font-style="italic">even even</text>
<line x1="67.9" y1="167.60" x2="84.2" y2="167.60" stroke="#000000" stroke-width="0.95"/>
<circle cx="67.9" cy="167.60" r="1.3" fill="#000000"/><circle cx="84.2" cy="167.60" r="1.3" fill="#000000"/>
<text x="92" y="170.90" font-size="10.6px" xml:space="preserve"><tspan font-style="italic">L</tspan> = 8</text>
<line x1="67.9" y1="178.82" x2="84.2" y2="178.82" stroke="#ff0000" stroke-width="0.95"/>
<circle cx="67.9" cy="178.82" r="1.3" fill="#ff0000"/><circle cx="84.2" cy="178.82" r="1.3" fill="#ff0000"/>
<text x="92" y="182.12" font-size="10.6px" xml:space="preserve"><tspan font-style="italic">L</tspan> = 12</text>
<line x1="67.9" y1="190.04" x2="84.2" y2="190.04" stroke="#008a00" stroke-width="0.95"/>
<circle cx="67.9" cy="190.04" r="1.3" fill="#008a00"/><circle cx="84.2" cy="190.04" r="1.3" fill="#008a00"/>
<text x="92" y="193.34" font-size="10.6px" xml:space="preserve"><tspan font-style="italic">L</tspan> = 16</text>
<line x1="67.9" y1="201.26" x2="84.2" y2="201.26" stroke="#0000ff" stroke-width="0.95"/>
<circle cx="67.9" cy="201.26" r="1.3" fill="#0000ff"/><circle cx="84.2" cy="201.26" r="1.3" fill="#0000ff"/>
<text x="92" y="204.56" font-size="10.6px" xml:space="preserve"><tspan font-style="italic">L</tspan> = 24</text>
<line x1="67.9" y1="212.48" x2="84.2" y2="212.48" stroke="#ffa500" stroke-width="0.95"/>
<circle cx="67.9" cy="212.48" r="1.3" fill="#ffa500"/><circle cx="84.2" cy="212.48" r="1.3" fill="#ffa500"/>
<text x="92" y="215.78" font-size="10.6px" xml:space="preserve"><tspan font-style="italic">L</tspan> = 32</text>
<line x1="67.9" y1="223.70" x2="84.2" y2="223.70" stroke="#ff00ff" stroke-width="0.95"/>
<circle cx="67.9" cy="223.70" r="1.3" fill="#ff00ff"/><circle cx="84.2" cy="223.70" r="1.3" fill="#ff00ff"/>
<text x="92" y="227.00" font-size="10.6px" xml:space="preserve"><tspan font-style="italic">L</tspan> = 40</text>
<line x1="67.9" y1="234.92" x2="84.2" y2="234.92" stroke="#9400d3" stroke-width="0.95"/>
<circle cx="67.9" cy="234.92" r="1.3" fill="#9400d3"/><circle cx="84.2" cy="234.92" r="1.3" fill="#9400d3"/>
<text x="92" y="238.22" font-size="10.6px" xml:space="preserve"><tspan font-style="italic">L</tspan> = 48</text>
</g>
</svg>
</body></html>
